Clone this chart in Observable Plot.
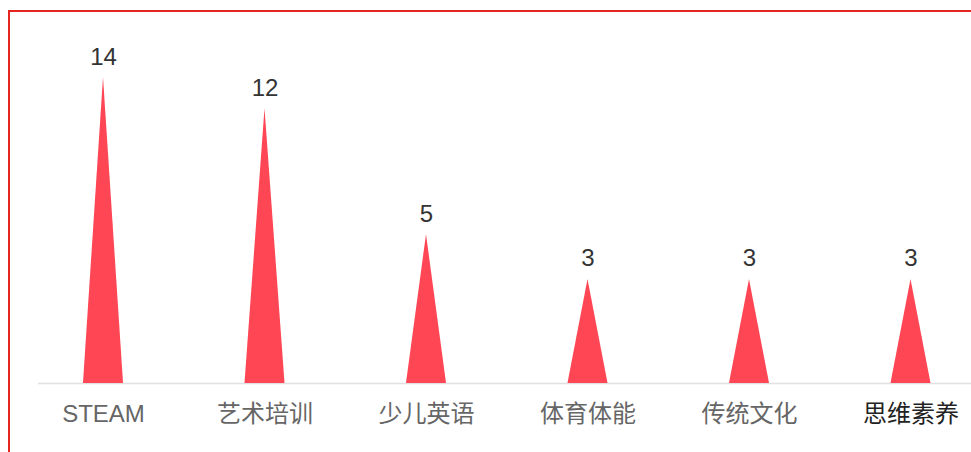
<!DOCTYPE html>
<html>
<head>
<meta charset="utf-8">
<script src="https://cdn.jsdelivr.net/npm/d3@7"></script>
<script src="https://cdn.jsdelivr.net/npm/@observablehq/plot@0.6"></script>
<style>
  html, body { margin: 0; padding: 0; background: #fff; overflow: hidden; }
  #wrap { position: relative; width: 971px; height: 452px; overflow: hidden; }
  #frame { position: absolute; left: 8px; top: 10px; width: 1200px; height: 1200px;
           border: 2px solid #e3261f; box-sizing: border-box; }
  #chart { position: absolute; left: 0; top: 0; }
</style>
</head>
<body>
<div id="wrap"><div id="frame"></div><div id="chart"></div></div>
<script>
const categories = ["STEAM", "艺术培训", "少儿英语", "体育体能", "传统文化", "思维素养"];
const values = [14, 12, 5, 3, 3, 3];
const labelColors = ["#666", "#666", "#666", "#666", "#666", "#222"];

const rows = categories.map((c, i) => ({i, c, v: values[i], color: labelColors[i]}));
const halfWidth = 0.124;
const triangles = rows.flatMap(d => [
  {c: d.c, x: d.i - halfWidth, y: 0},
  {c: d.c, x: d.i, y: d.v},
  {c: d.c, x: d.i + halfWidth, y: 0}
]);

const font = '"Liberation Sans", Arial, "Noto Sans CJK SC", sans-serif';

const chart = Plot.plot({
  width: 971,
  height: 452,
  marginLeft: 38,
  marginRight: 0,
  marginTop: 0,
  marginBottom: 69,
  style: {fontFamily: font, background: "transparent", overflow: "visible"},
  x: {type: "linear", domain: [-0.5, 5.5], range: [22.25, 991.25], axis: null},
  y: {type: "pow", exponent: 0.7, domain: [0, 14], range: [383, 77], axis: null},
  color: {type: "identity"},
  marks: [
    Plot.ruleY([0], {stroke: "#e0e0e0", strokeWidth: 1.5}),
    Plot.areaY(triangles, {x: "x", y: "y", z: "c", fill: "#ff4655", curve: "linear"}),
    Plot.text(rows, {x: "i", y: "v", text: d => String(d.v), lineAnchor: "bottom", dy: -13,
      fontSize: 24, fill: "#333", fontFamily: font}),
    Plot.text(rows, {x: "i", y: 0, text: "c", lineAnchor: "bottom", dy: 38,
      fontSize: 24, fill: "color", fontFamily: font})
  ]
});
document.getElementById("chart").appendChild(chart);
</script>
</body>
</html>
